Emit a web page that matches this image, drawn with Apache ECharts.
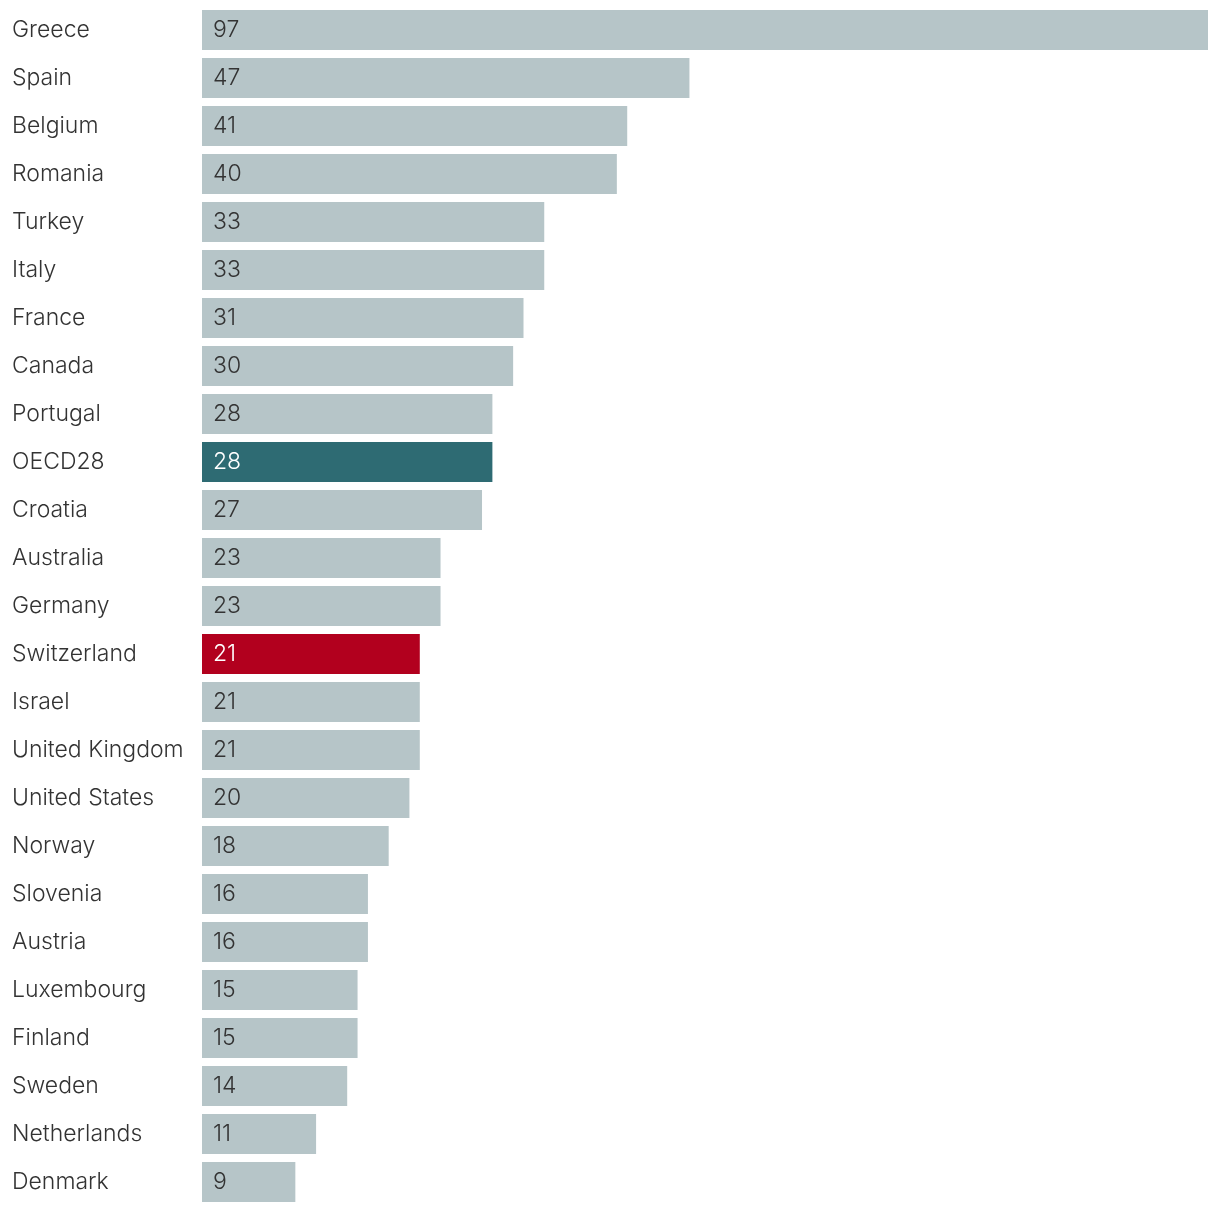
<!DOCTYPE html>
<html>
<head>
<meta charset="utf-8">
<style>
  html, body { margin: 0; padding: 0; background: #fff; }
  #chart { width: 1220px; height: 1212px; }
</style>
<script src="https://cdn.jsdelivr.net/npm/echarts@6/dist/echarts.min.js"></script>
</head>
<body>
<div id="chart"></div>
<script>
const countries = ['Greece', 'Spain', 'Belgium', 'Romania', 'Turkey', 'Italy', 'France', 'Canada',
  'Portugal', 'OECD28', 'Croatia', 'Australia', 'Germany', 'Switzerland', 'Israel', 'United Kingdom',
  'United States', 'Norway', 'Slovenia', 'Austria', 'Luxembourg', 'Finland', 'Sweden', 'Netherlands', 'Denmark'];
const values = [97, 47, 41, 40, 33, 33, 31, 30, 28, 28, 27, 23, 23, 21, 21, 21, 20, 18, 16, 16, 15, 15, 14, 11, 9];
const highlight = { 'OECD28': '#2e6b73', 'Switzerland': '#b2001e' };

const font = 'Inter, "Noto Sans", sans-serif';

const data = values.map((v, i) => {
  const c = highlight[countries[i]];
  return {
    value: v,
    itemStyle: { color: c || '#b6c5c8' },
    label: { color: c ? '#ffffff' : '#333333' }
  };
});

const chart = echarts.init(document.getElementById('chart'), null, { renderer: 'canvas' });
chart.setOption({
  animation: false,
  grid: { left: 202, right: 12, top: 6, bottom: 6, containLabel: false },
  xAxis: {
    type: 'value',
    min: 0,
    max: 97,
    show: false
  },
  yAxis: {
    type: 'category',
    inverse: true,
    data: countries,
    axisLine: { show: false },
    axisTick: { show: false },
    axisLabel: {
      align: 'left',
      margin: 190,
      fontFamily: font,
      fontWeight: 300,
      fontSize: 23,
      color: '#333333',
      padding: [4, 0, 0, 0]
    }
  },
  series: [{
    type: 'bar',
    data: data,
    barWidth: 40,
    label: {
      show: true,
      position: 'insideLeft',
      distance: 11,
      fontFamily: font,
      fontWeight: 300,
      fontSize: 23,
      padding: [4, 0, 0, 0]
    }
  }]
});
</script>
</body>
</html>
